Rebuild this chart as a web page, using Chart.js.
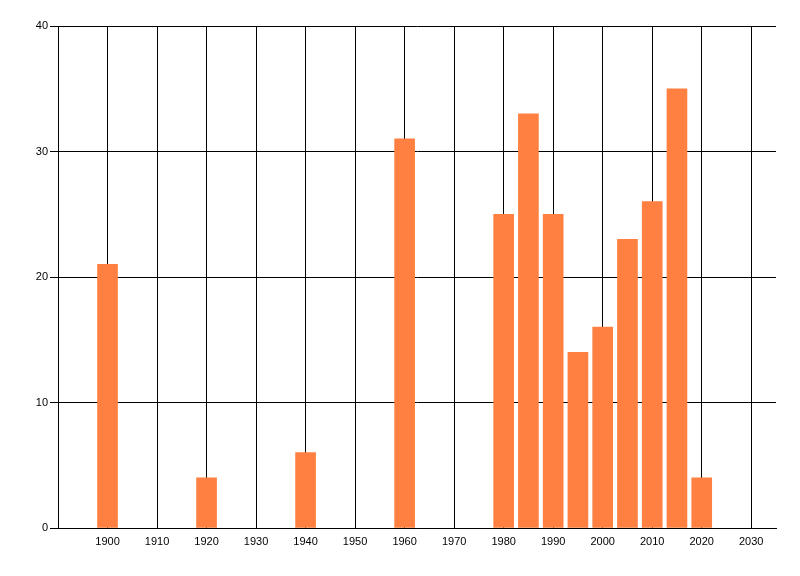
<!DOCTYPE html>
<html>
<head>
<meta charset="utf-8">
<script src="https://cdn.jsdelivr.net/npm/chart.js@4/dist/chart.umd.min.js"></script>
<style>
  html, body { margin: 0; padding: 0; background: #fff; overflow: hidden; }
  canvas { display: block; }
</style>
</head>
<body>
<canvas id="grafica" width="800" height="576"></canvas>
<script>
// datos
const years = [1900, 1920, 1940, 1960, 1980, 1985, 1990, 1995, 2000, 2005, 2010, 2015, 2020];
const counts = [21, 4, 6, 31, 25, 33, 25, 14, 16, 23, 26, 35, 4];
const yTicks = [0, 10, 20, 30, 40];

const ctx = document.getElementById('grafica').getContext('2d');
new Chart(ctx, {
    type: 'bar',
    data: {
        datasets: [{
            data: years.map((y, i) => ({ x: y, y: counts[i] })),
            backgroundColor: '#FF8040',
            borderWidth: 0,
            barThickness: 20
        }]
    },
    options: {
        responsive: false,
        animation: false,
        devicePixelRatio: 1,
        layout: { padding: { top: 26, right: 24, bottom: 0, left: 0 } },
        plugins: { legend: { display: false }, tooltip: { enabled: false } },
        scales: {
            x: {
                type: 'linear',
                min: 1890,
                max: 2035,
                offset: false,
                afterFit: s => { s.height = 48; },
                ticks: {
                    stepSize: 10,
                    includeBounds: false,
                    autoSkip: false,
                    maxRotation: 0,
                    minRotation: 0,
                    padding: 7,
                    color: '#000',
                    font: { family: 'Liberation Sans', size: 11 },
                    callback: v => v < 1900 ? '' : String(v)
                },
                grid: { color: '#000', lineWidth: 1, drawTicks: false, offset: false },
                border: { color: '#000', width: 1 }
            },
            y: {
                min: 0,
                max: 40,
                afterFit: s => { s.width = 58; },
                afterBuildTicks: s => { s.ticks = yTicks.map(v => ({ value: v })); },
                ticks: {
                    padding: 2,
                    color: '#000',
                    font: { family: 'Liberation Sans', size: 11 }
                },
                grid: { color: '#000', lineWidth: 1, tickLength: 8 },
                border: { color: '#000', width: 1 }
            }
        }
    }
});
</script>
</body>
</html>
